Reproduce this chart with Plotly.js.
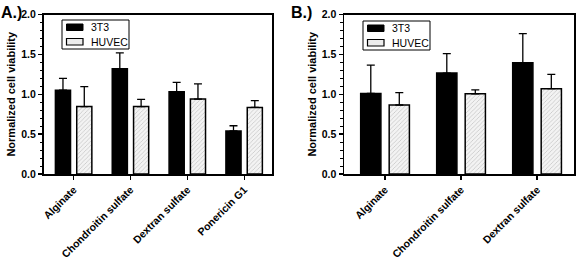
<!DOCTYPE html>
<html>
<head>
<meta charset="utf-8">
<script src="https://cdn.plot.ly/plotly-3.0.1.min.js"></script>
<style>html,body{margin:0;padding:0;background:#fff;}#chart{width:579px;height:261px;}</style>
</head>
<body>
<div id="chart"></div>
<script>
// Panel A data
const catsA = ['Alginate', 'Chondroitin sulfate', 'Dextran sulfate', 'Ponericin G1'];
const a3T3 = [1.05, 1.32, 1.03, 0.54];
const a3T3Err = [0.15, 0.20, 0.12, 0.065];
const aHUVEC = [0.845, 0.845, 0.94, 0.835];
const aHUVECErr = [0.25, 0.09, 0.19, 0.085];

// Panel B data
const catsB = ['Alginate', 'Chondroitin sulfate', 'Dextran sulfate'];
const b3T3 = [1.01, 1.265, 1.395];
const b3T3Err = [0.355, 0.245, 0.365];
const bHUVEC = [0.865, 1.005, 1.07];
const bHUVECErr = [0.155, 0.05, 0.18];

const seriesNames = ['3T3', 'HUVEC'];
const yTickVals = [0, 0.5, 1.0, 1.5, 2.0];
const yTickText = ['0.0', '0.5', '1.0', '1.5', '2.0'];
const panelLabels = ['A.)', 'B.)'];

const W = 579, H = 261;
const FONT = 'Arial, "Liberation Sans", sans-serif';
const huvecMarker = {
  color: '#f1f1f1',
  line: {color: '#000', width: 1.5},
  pattern: {shape: '/', fgcolor: '#c4c4c4', bgcolor: '#f3f3f3', size: 3, solidity: 0.25}
};
const blackMarker = {color: '#000', line: {color: '#000', width: 1.5}};
function err(arr) {
  return {type: 'data', symmetric: false, array: arr, arrayminus: arr.map(() => 0),
          color: '#000', thickness: 1.3, width: 4};
}

const traces = [
  {type: 'bar', x: catsA, y: a3T3, name: seriesNames[0], marker: blackMarker,
   error_y: err(a3T3Err), xaxis: 'x', yaxis: 'y'},
  {type: 'bar', x: catsA, y: aHUVEC, name: seriesNames[1], marker: huvecMarker,
   error_y: err(aHUVECErr), xaxis: 'x', yaxis: 'y'},
  {type: 'bar', x: catsB, y: b3T3, name: seriesNames[0], marker: blackMarker,
   error_y: err(b3T3Err), xaxis: 'x2', yaxis: 'y2'},
  {type: 'bar', x: catsB, y: bHUVEC, name: seriesNames[1], marker: huvecMarker,
   error_y: err(bHUVECErr), xaxis: 'x2', yaxis: 'y2'}
];

function xAxis(domain, range, anchor) {
  return {
    domain: domain, range: range, anchor: anchor, type: 'category',
    showline: true, linecolor: '#000', linewidth: 1.5, mirror: true,
    ticks: 'outside', ticklen: 4, tickwidth: 1.3, tickcolor: '#000',
    tickangle: -45, automargin: false, showgrid: false, zeroline: false,
    tickfont: {family: FONT, size: 10.5, color: '#000', weight: 'bold'}
  };
}
function yAxis(domain, anchor) {
  return {
    domain: domain, range: [0, 2], anchor: anchor,
    showline: true, linecolor: '#000', linewidth: 1.5, mirror: true,
    ticks: 'outside', ticklen: 4, tickwidth: 1.3, tickcolor: '#000',
    tickvals: yTickVals, ticktext: yTickText,
    minor: {dtick: 0.1, ticks: 'outside', ticklen: 2.5, tickwidth: 1, tickcolor: '#000', showgrid: false},
    showgrid: false, zeroline: false, automargin: false,
    tickfont: {family: FONT, size: 10.5, color: '#000', weight: 'bold'},
    title: {text: 'Normalized cell viability', standoff: 3,
            font: {family: FONT, size: 11, color: '#000', weight: 'bold'}}
  };
}

// pixel -> paper helpers for the hand-built legends
const px = v => v / W;
const py = v => 1 - v / H;
const shapes = [];
const annotations = [];
function addLegend(left, top) {
  shapes.push({type: 'rect', xref: 'paper', yref: 'paper', x0: px(left), x1: px(left + 67),
               y0: py(top), y1: py(top + 29), line: {color: '#000', width: 1}, fillcolor: '#fff'});
  shapes.push({type: 'rect', xref: 'paper', yref: 'paper', x0: px(left + 4.5), x1: px(left + 21),
               y0: py(top + 4), y1: py(top + 10.5), line: {color: '#000', width: 1}, fillcolor: '#000'});
  shapes.push({type: 'rect', xref: 'paper', yref: 'paper', x0: px(left + 4.5), x1: px(left + 21),
               y0: py(top + 18.5), y1: py(top + 25), line: {color: '#000', width: 1.2}, fillcolor: '#ececec'});
  annotations.push({text: seriesNames[0], xref: 'paper', yref: 'paper', x: px(left + 27), y: py(top + 7.3),
                    xanchor: 'left', yanchor: 'middle', showarrow: false,
                    font: {family: FONT, size: 10.5, color: '#000'}});
  annotations.push({text: seriesNames[1], xref: 'paper', yref: 'paper', x: px(left + 27), y: py(top + 21.8),
                    xanchor: 'left', yanchor: 'middle', showarrow: false,
                    font: {family: FONT, size: 10.5, color: '#000'}});
}
addLegend(62, 20);
addLegend(363, 21);
annotations.push({text: panelLabels[0], xref: 'paper', yref: 'paper', x: 0, y: py(3), xanchor: 'left', yanchor: 'top',
     showarrow: false, borderpad: 0, font: {family: FONT, size: 16, color: '#000', weight: 'bold'}});
annotations.push({text: panelLabels[1], xref: 'paper', yref: 'paper', x: px(290), y: py(3), xanchor: 'left', yanchor: 'top',
     showarrow: false, borderpad: 0, font: {family: FONT, size: 16, color: '#000', weight: 'bold'}});

const yDom = [(H - 174) / H, (H - 14.5) / H];
const layout = {
  width: W, height: H,
  margin: {l: 0, r: 0, t: 0, b: 0},
  paper_bgcolor: '#fff', plot_bgcolor: '#fff',
  barmode: 'group', bargap: 0.25, bargroupgap: 0.29,
  showlegend: false,
  xaxis: xAxis([px(43.5), px(272)], [-0.53, 3.49], 'y'),
  yaxis: yAxis(yDom, 'x'),
  xaxis2: xAxis([px(344), px(574.3)], [-0.54, 2.49], 'y2'),
  yaxis2: yAxis(yDom, 'x2'),
  shapes: shapes,
  annotations: annotations
};

Plotly.newPlot('chart', traces, layout, {displayModeBar: false, staticPlot: true});
</script>
</body>
</html>
